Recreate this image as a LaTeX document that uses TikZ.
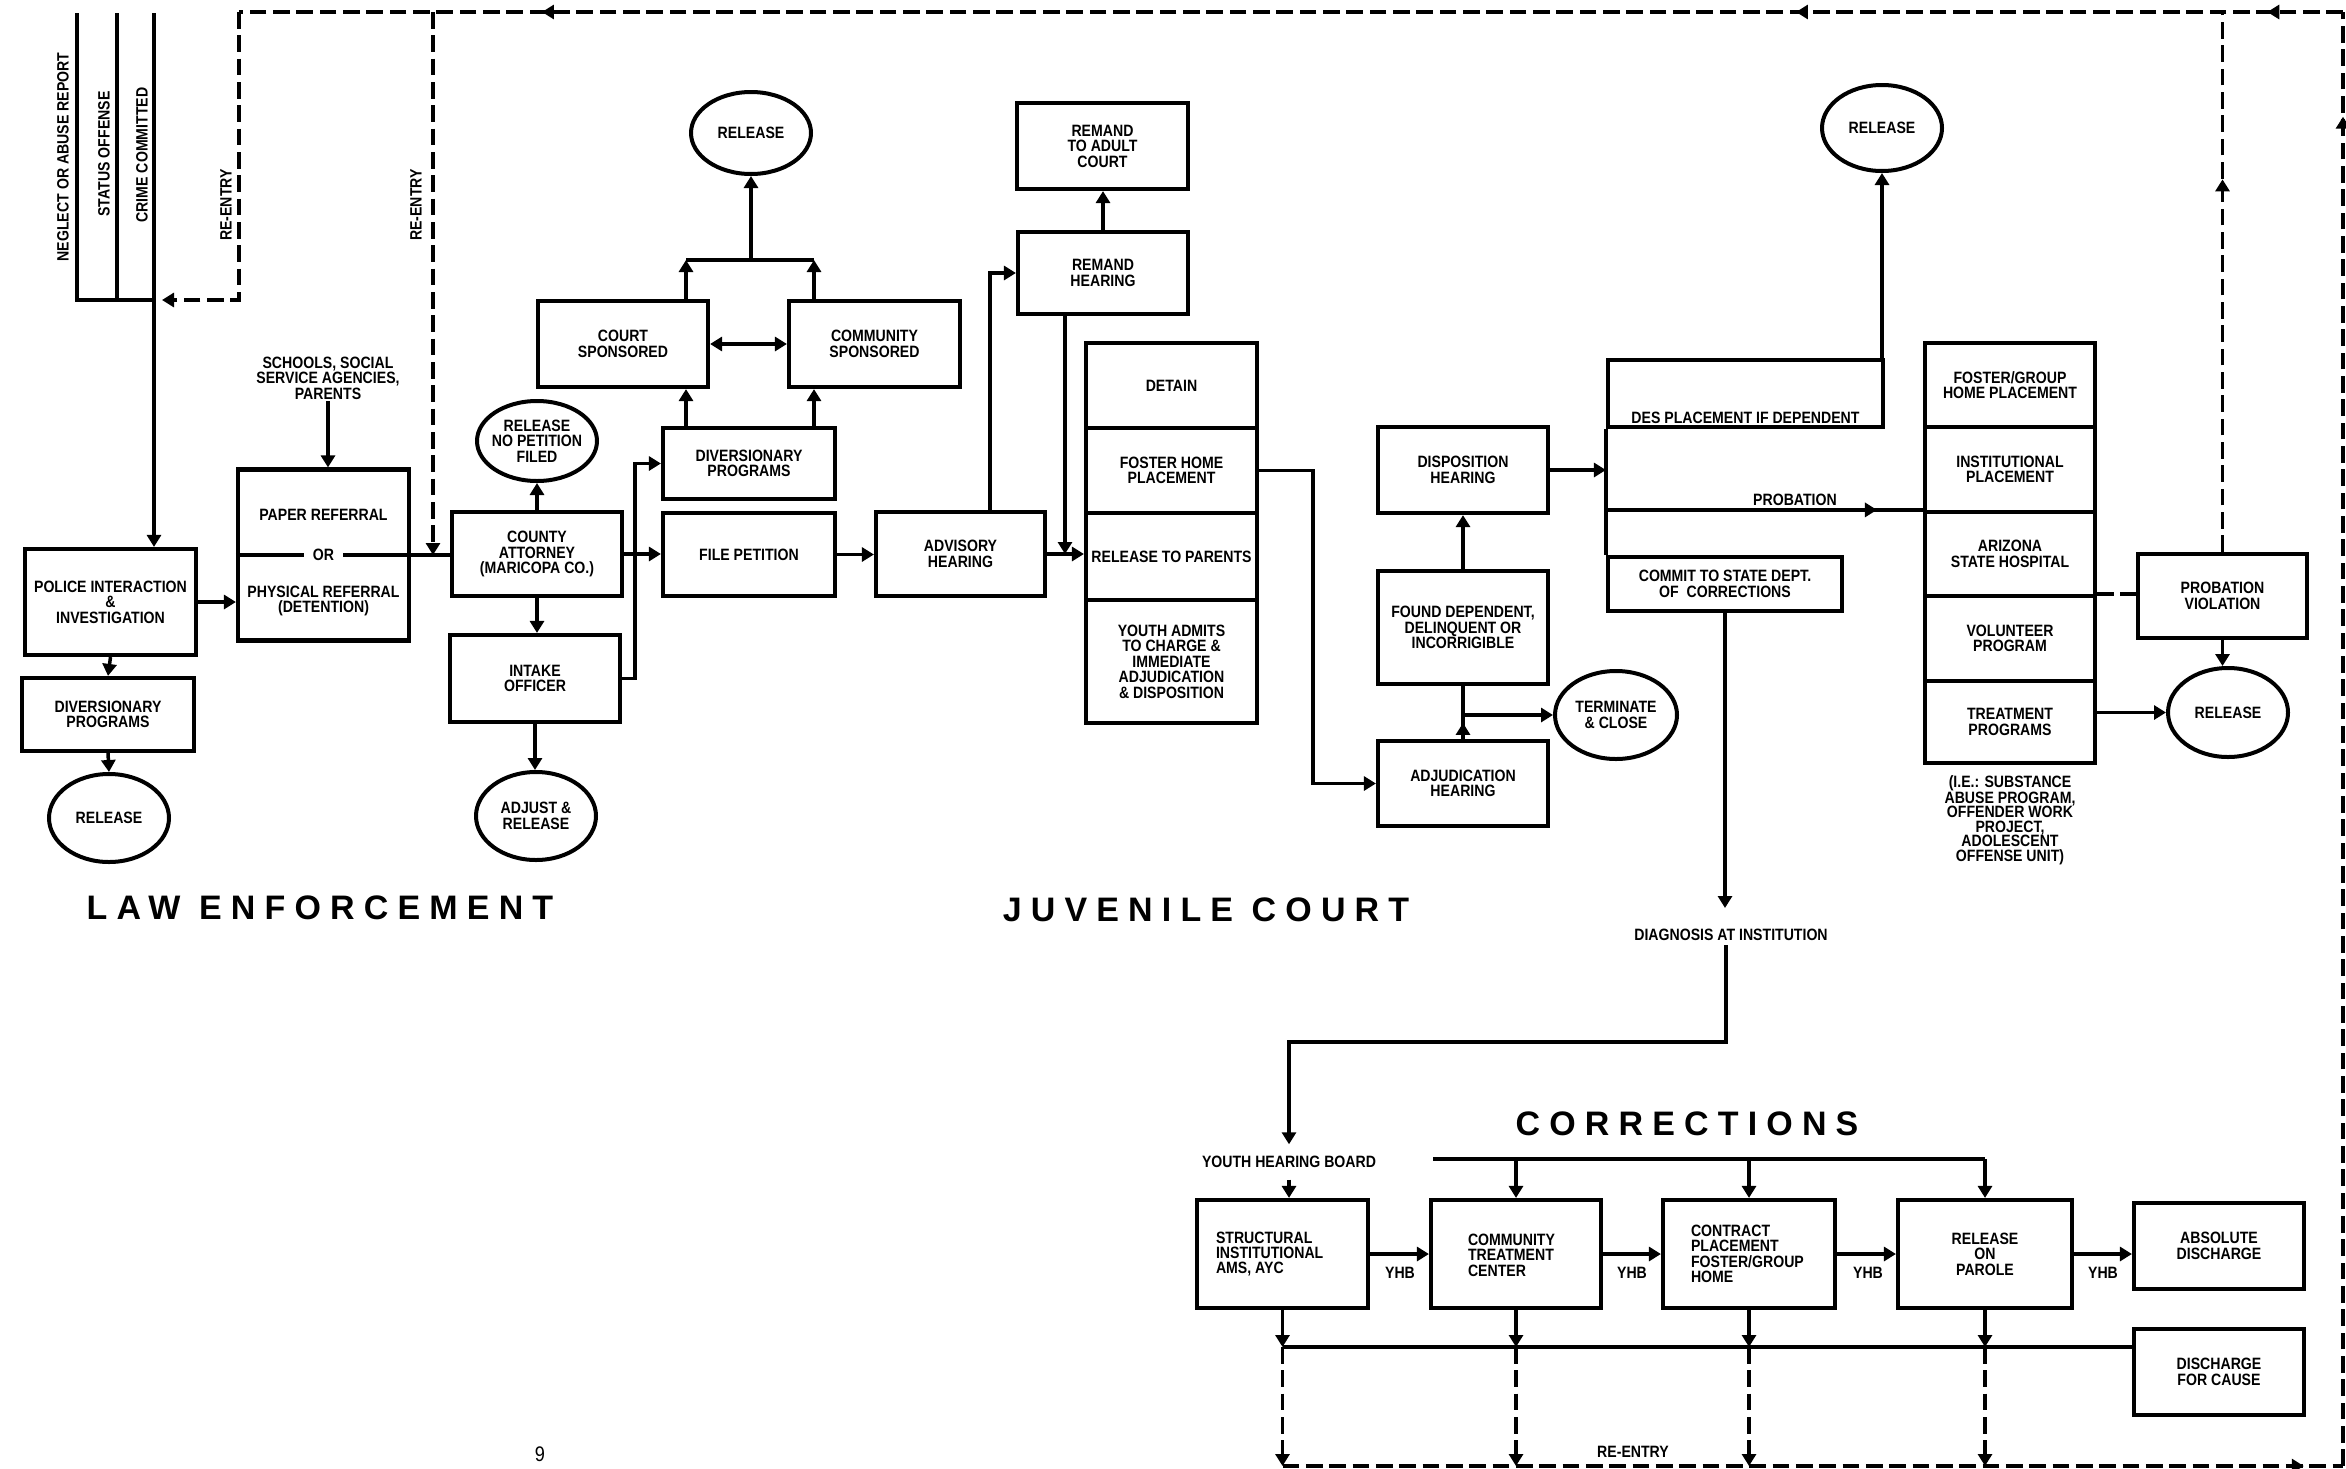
\documentclass[tikz,border=0pt]{standalone}
\usepackage{fontspec}
\setmainfont{Liberation Sans}[FakeStretch=0.86]
\newfontfamily\ttlfont{Liberation Sans}[LetterSpace=27]
\usetikzlibrary{arrows.meta,shapes.geometric,calc,decorations.markings}
\newcommand\myboxfont{\fontsize{14}{13.2}\selectfont\bfseries}
\begin{document}
\begin{tikzpicture}[x=0.3mm,y=-0.3mm,
  wh/.style 2 args={minimum width=#1*0.3mm, minimum height=#2*0.3mm},
  box/.style={draw, line width=1.25mm, inner sep=0pt, align=center, font=\myboxfont},
  ell/.style={draw, ellipse, line width=1.2mm, inner sep=0pt},
  lbl/.style={align=center, inner sep=1.5pt, font=\myboxfont},
  ln/.style={line width=1.05mm},
  tip/.style={-{Triangle[length=3.6mm,width=4.2mm]}},
  arr/.style={ln, tip},
  dsh/.style={line width=1mm, dash pattern=on 5mm off 2mm},
  darr/.style={dsh, tip},
  mk/.style={postaction={decorate, decoration={markings, mark=at position #1 with {\arrow{Triangle[length=3.6mm,width=4.2mm]}}}}},
  ttl/.style={font={\ttlfont\bfseries\fontsize{29}{30}\selectfont}, inner sep=0pt}
]
\useasboundingbox (0,0) rectangle (2346,1468);
\fill[white] (0,0) rectangle (2346,1468);

% ---------------- LAW ENFORCEMENT ----------------
\coordinate (n1) at (77,13);
\coordinate (n2) at (117,13);
\coordinate (n3) at (154,13);
\coordinate (jn) at (154,300);
\node[lbl, rotate=90] (lneg) at (63,157) {NEGLECT OR ABUSE REPORT};
\node[lbl, rotate=90] (lsta) at (104,154) {STATUS OFFENSE};
\node[lbl, rotate=90] (lcri) at (142,155) {CRIME COMMITTED};

\node[box, wh={171}{106}] (police) at (110.5,602) {POLICE INTERACTION\\\&\\INVESTIGATION};
\node[box, wh={172}{73}] (div1) at (108,714.5) {DIVERSIONARY\\PROGRAMS};
\node[ell, wh={120}{88}] (rel1) at (109,818) {};
\node[lbl] at (rel1) {RELEASE};

\node[box, wh={171}{171}] (paper) at (323.5,555) {};
\node[lbl] (paptxt) at (323.5,515) {PAPER REFERRAL};
\node[lbl] (phytxt) at (323.5,601) {PHYSICAL REFERRAL\\(DETENTION)};
\node[lbl] (schools) at (328,378) {SCHOOLS, SOCIAL\\SERVICE AGENCIES,\\PARENTS};

\node[box, wh={170}{84}] (ca) at (537,554) {COUNTY\\ATTORNEY\\(MARICOPA CO.)};
\node[ell, wh={120}{80}] (rel2) at (537,441) {};
\node[lbl] at (rel2) {RELEASE\\NO PETITION\\FILED};
\node[box, wh={170}{87}] (intake) at (535,678.5) {INTAKE\\OFFICER};
\node[ell, wh={120}{88}] (adj) at (536,816) {};
\node[lbl] at (adj) {ADJUST \&\\RELEASE};

\node[box, wh={172}{71}] (div2) at (749,463.5) {DIVERSIONARY\\PROGRAMS};
\node[box, wh={172}{83}] (filepet) at (749,554.5) {FILE PETITION};
\node[box, wh={170}{86}] (court) at (623,344) {COURT\\SPONSORED};
\node[box, wh={171}{86}] (comm) at (874.5,344) {COMMUNITY\\SPONSORED};
\node[ell, wh={120}{82}] (rel3) at (751,133) {};
\node[lbl] at (rel3) {RELEASE};

% connectors law enforcement
\draw[ln] (n1) |- (jn);
\draw[ln] (n2) -- (n2 |- jn);
\draw[arr] (n3) -- (n3 |- police.north);
\coordinate (tl1) at (239,12);
\coordinate (re1tip) at (162,300);
\draw[darr] (tl1) |- (re1tip);
\node[lbl, rotate=90] at (226,205) {RE-ENTRY};
\coordinate (re2) at (433,12);
\draw[darr] (re2) -- (re2 |- paper.center);
\node[lbl, rotate=90] at (416,205) {RE-ENTRY};

\draw[arr] (police.south) -- (div1.north);
\draw[arr] (div1.south) -- (rel1.north);
\draw[arr] (police.east) -- (police.east -| paper.west);
\draw[arr] (schools.south) -- (schools.south |- paper.north);
\draw[ln] (paper.west) -- (paper.west -| ca.west);
\node[lbl, fill=white, inner xsep=2.8mm] at (323.5,555) {OR};

\draw[arr] (ca.north) -- (rel2.south);
\draw[arr] (ca.south) -- (ca.south |- intake.north);
\draw[arr] (intake.south) -- (intake.south |- adj.north);
\coordinate (xi) at (635,0);
\draw[arr] (intake.east) -- (intake.east -| xi) |- (div2.west);
\draw[arr] (ca.east) -- (ca.east -| filepet.west);
\coordinate (xa) at (686,0);
\coordinate (xb) at (814,0);
\coordinate (bar) at (751,260);
\draw[arr] (div2.north -| xa) -- (court.south -| xa);
\draw[arr] (div2.north -| xb) -- (comm.south -| xb);
\draw[arr] (court.north -| xa) -- (xa |- bar);
\draw[arr] (comm.north -| xb) -- (xb |- bar);
\draw[ln] (xa |- bar) -- (xb |- bar);
\draw[arr] (bar) -- (rel3.south);
\draw[ln, {Triangle[length=3.6mm,width=4.2mm]}-{Triangle[length=3.6mm,width=4.2mm]}] (court.east) -- (comm.west);

% ---------------- JUVENILE COURT ----------------
\node[box, wh={169}{84}] (adv) at (960.5,554) {ADVISORY\\HEARING};
\node[box, wh={170}{82}] (remand) at (1103,273) {REMAND\\HEARING};
\node[box, wh={171}{86}] (remadult) at (1102.5,146) {REMAND\\TO ADULT\\COURT};
\node[box, wh={171}{85}] (detain) at (1171.5,385.5) {DETAIN};
\node[box, wh={171}{85}] (foster) at (1171.5,470.5) {FOSTER HOME\\PLACEMENT};
\node[box, wh={171}{87}] (rtp) at (1171.5,556.5) {RELEASE TO PARENTS};
\node[box, wh={171}{123}] (youth) at (1171.5,661.5) {YOUTH ADMITS\\TO CHARGE \&\\IMMEDIATE\\ADJUDICATION\\\& DISPOSITION};

\node[box, wh={170}{86}] (disp) at (1463,470) {DISPOSITION\\HEARING};
\node[box, wh={170}{113}] (found) at (1463,627.5) {FOUND DEPENDENT,\\DELINQUENT OR\\INCORRIGIBLE};
\node[box, wh={170}{85}] (adjh) at (1463,783.5) {ADJUDICATION\\HEARING};
\node[ell, wh={122}{88}] (term) at (1616,715) {};
\node[lbl] at (term) {TERMINATE\\\& CLOSE};

\node[box, wh={275}{67}] (des) at (1745.5,393.5) {};
\node[lbl] at (1745.5,418) {DES PLACEMENT IF DEPENDENT};
\node[ell, wh={120}{86}] (rel4) at (1882,128) {};
\node[lbl] at (rel4) {RELEASE};
\node[box, wh={234}{54}] (commit) at (1725,584) {COMMIT TO STATE DEPT.\\OF\ \ CORRECTIONS};

\node[box, wh={170}{84}] (fg) at (2010,385) {FOSTER/GROUP\\HOME PLACEMENT};
\node[box, wh={170}{85}] (ins) at (2010,469.5) {INSTITUTIONAL\\PLACEMENT};
\node[box, wh={170}{84}] (az) at (2010,554) {ARIZONA\\STATE HOSPITAL};
\node[box, wh={170}{85}] (vol) at (2010,638.5) {VOLUNTEER\\PROGRAM};
\node[box, wh={170}{82}] (trt) at (2010,722) {TREATMENT\\PROGRAMS};
\node[lbl, font=\fontsize{14}{12.4}\selectfont\bfseries] (foot) at (2010,820) {(I.E.: SUBSTANCE\\ABUSE PROGRAM,\\OFFENDER WORK\\PROJECT,\\ADOLESCENT\\OFFENSE UNIT)};
\node[box, wh={169}{84}] (pv) at (2222.5,596) {PROBATION\\VIOLATION};
\node[ell, wh={120}{89}] (rel5) at (2228,712.5) {};
\node[lbl] at (rel5) {RELEASE};

% connectors juvenile court
\draw[arr] (filepet.east) -- (filepet.east -| adv.west);
\coordinate (xc) at (990,0);
\draw[arr] (adv.north -| xc) |- (remand.west);
\draw[arr] (remand.north) -- (remand.north |- remadult.south);
\coordinate (xd) at (1065,0);
\draw[arr] (remand.south -| xd) -- (xd |- adv.east);
\draw[arr] (adv.east) -- (adv.east -| rtp.west);
\coordinate (xe) at (1313,0);
\draw[arr] (foster.east) -- (foster.east -| xe) |- (adjh.west);
\draw[arr] (found.north) -- (disp.south);
\draw[ln] (adjh.north) -- (found.south);
\draw[arr] (adjh.north) -- ++(0,-16);
\draw[arr] (adjh.north |- term.west) -- (term.west);
\draw[arr] (disp.east) -- (disp.east -| des.west);
\draw[line width=1.25mm] (des.south west) -- (commit.north west);
\draw[arr] (rel4.south |- des.north) -- (rel4.south);
\coordinate (pb) at (des.west |- az.north);
\draw[ln] (pb) -- (az.north west);
\draw[arr] (pb) -- ($(pb)!0.855!(az.north west)$);
\node[lbl] at (1795,500) {PROBATION};
\draw[dsh] (vol.north east) -- (vol.north east -| pv.west);
\draw[arr] (pv.south) -- (pv.south |- rel5.north);
\draw[arr] (rel5.west -| trt.east) -- (rel5.west);

% ---------------- CORRECTIONS ----------------
\coordinate (dg1) at (1726,908);
\coordinate (dg2) at (1726,945);
\draw[arr] (commit.south) -- (commit.south |- dg1);
\node[lbl] (diag) at (1731,935) {DIAGNOSIS AT INSTITUTION};
\node[lbl, inner ysep=3.5mm] (yhb) at (1289,1162) {YOUTH HEARING BOARD};
\draw[arr] (dg2) -- ++(0,97) -| (yhb.north);

\node[box, wh={171}{108}] (struct) at (1282.5,1254) {};
\node[lbl, anchor=west, align=left] at (1214,1254) {STRUCTURAL\\INSTITUTIONAL\\AMS, AYC};
\node[box, wh={170}{108}] (ctc) at (1516,1254) {};
\node[lbl, anchor=west, align=left] at (1466,1255) {COMMUNITY\\TREATMENT\\CENTER};
\node[box, wh={172}{108}] (contract) at (1749,1254) {};
\node[lbl, anchor=west, align=left] at (1689,1254) {CONTRACT\\PLACEMENT\\FOSTER/GROUP\\HOME};
\node[box, wh={174}{108}] (parole) at (1985,1254) {RELEASE\\ON\\PAROLE};
\node[box, wh={170}{86}] (absd) at (2219,1246) {ABSOLUTE\\DISCHARGE};
\node[box, wh={170}{86}] (dfc) at (2219,1372) {DISCHARGE\\FOR CAUSE};

\draw[arr] (yhb.south) -- (yhb.south |- struct.north);
\draw[arr] (struct.east) -- (struct.east -| ctc.west);
\draw[arr] (ctc.east) -- (ctc.east -| contract.west);
\draw[arr] (contract.east) -- (contract.east -| parole.west);
\draw[arr] (parole.east) -- (parole.east -| absd.west);
\node[lbl] at (1400,1273) {YHB};
\node[lbl] at (1632,1273) {YHB};
\node[lbl] at (1868,1273) {YHB};
\node[lbl] at (2103,1273) {YHB};

\coordinate (bus1) at (1433,1159);
\draw[ln] (bus1) -- (parole.north |- bus1);
\draw[arr] (ctc.north |- bus1) -- (ctc.north);
\draw[arr] (contract.north |- bus1) -- (contract.north);
\draw[arr] (parole.north |- bus1) -- (parole.north);

\coordinate (bus2) at (0,1347);
\coordinate (bus3) at (0,1466);
\foreach \b in {struct,ctc,contract,parole}{
  \draw[arr] (\b.south) -- (\b.south |- bus2);
  \draw[darr] (\b.south |- bus2) -- (\b.south |- bus3);
}
\draw[ln] (struct.south |- bus2) -- (dfc.west |- bus2);
\node[lbl] at (1633,1452) {RE-ENTRY};

% ---------------- re-entry loop ----------------
\coordinate (BR) at (2343,1466);
\coordinate (TR) at (2343,12);
\draw[dsh, mk=0.963] (struct.south |- bus3) -- (BR);
\draw[dsh, mk=0.928] (BR) -- (TR);
\draw[dsh, mk=0.036, mk=0.26, mk=0.856] (TR) -- (tl1);
\draw[dsh, mk=0.69] (pv.north) -- (pv.north |- TR);

% ---------------- titles ----------------
\node[ttl] at (320,908) {LAW ENFORCEMENT};
\node[ttl] at (1206,910) {JUVENILE COURT};
\node[ttl] at (1687,1124) {CORRECTIONS};
\node[font=\fontsize{18}{18}\selectfont] at (540,1454) {9};
\end{tikzpicture}
\end{document}
